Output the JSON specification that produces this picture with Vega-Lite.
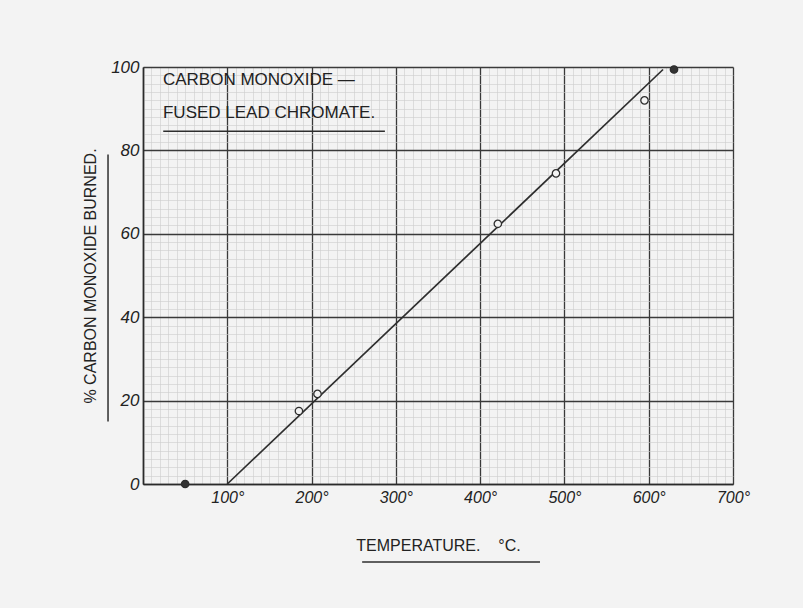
{
  "$schema": "https://vega.github.io/schema/vega-lite/v6.json",
  "autosize": {"type": "none"},
  "padding": {"left": 143, "top": 67, "right": 70, "bottom": 124},
  "width": 590,
  "height": 417,
  "background": "#f3f3f3",
  "config": {"view": {"stroke": null}},
  "datasets": {
    "points": [
      {"temp": 50, "pct": 0, "kind": "filled"},
      {"temp": 185, "pct": 17.5, "kind": "open"},
      {"temp": 207, "pct": 21.6, "kind": "open"},
      {"temp": 421, "pct": 62.4, "kind": "open"},
      {"temp": 490, "pct": 74.5, "kind": "open"},
      {"temp": 595, "pct": 92, "kind": "open"},
      {"temp": 630, "pct": 99.4, "kind": "filled"}
    ],
    "fit": [
      {"temp": 100, "pct": 0},
      {"temp": 617, "pct": 99.4}
    ],
    "underlines": [
      {"x1": 24, "x2": 287, "y1": 84.6, "y2": 84.6},
      {"x1": -41.5, "x2": -41.5, "y1": 15, "y2": 79},
      {"x1": 260, "x2": 471, "y1": -18.7, "y2": -18.7}
    ],
    "title": [
      {"tx": 23.7, "ty": 96.9, "label": "CARBON MONOXIDE —"},
      {"tx": 23.7, "ty": 89, "label": "FUSED LEAD CHROMATE."}
    ]
  },
  "layer": [
    {
      "data": {"name": "fit"},
      "mark": {"type": "line", "color": "#2e2e2e", "strokeWidth": 1.7},
      "encoding": {
        "x": {
          "field": "temp", "type": "quantitative",
          "scale": {"domain": [0, 700], "nice": false, "zero": true},
          "axis": {
            "values": [0,10,20,30,40,50,60,70,80,90,100,110,120,130,140,150,160,170,180,190,200,210,220,230,240,250,260,270,280,290,300,310,320,330,340,350,360,370,380,390,400,410,420,430,440,450,460,470,480,490,500,510,520,530,540,550,560,570,580,590,600,610,620,630,640,650,660,670,680,690,700],
            "tickCount": 1000,
            "labelExpr": "datum.value % 100 === 0 && datum.value > 0 ? datum.value + '°' : ''",
            "labelOverlap": false,
            "labelFlush": false,
            "grid": true,
            "gridColor": {"condition": {"test": "datum.value % 100 === 0", "value": "#3a3a3a"}, "value": "#cdcdcd"},
            "gridWidth": {"condition": {"test": "datum.value % 100 === 0", "value": 1.3}, "value": 0.6},
            "ticks": false,
            "domain": true,
            "domainColor": "#2a2a2a",
            "domainWidth": 1.6,
            "labelFont": "Liberation Sans",
            "labelFontStyle": "italic",
            "labelFontSize": 16,
            "labelColor": "#222222",
            "labelPadding": 5,
            "title": "TEMPERATURE.\u00a0\u00a0\u00a0\u00a0°C.",
            "titleFont": "Liberation Sans",
            "titleFontSize": 16,
            "titleFontWeight": "normal",
            "titleColor": "#222222",
            "titlePadding": 32
          }
        },
        "y": {
          "field": "pct", "type": "quantitative",
          "scale": {"domain": [0, 100], "nice": false},
          "axis": {
            "values": [0,2,4,6,8,10,12,14,16,18,20,22,24,26,28,30,32,34,36,38,40,42,44,46,48,50,52,54,56,58,60,62,64,66,68,70,72,74,76,78,80,82,84,86,88,90,92,94,96,98,100],
            "tickCount": 1000,
            "labelExpr": "datum.value % 20 === 0 ? datum.value + '' : ''",
            "labelOverlap": false,
            "labelFlush": false,
            "grid": true,
            "gridColor": {"condition": {"test": "datum.value % 20 === 0", "value": "#3a3a3a"}, "value": "#cdcdcd"},
            "gridWidth": {"condition": {"test": "datum.value % 20 === 0", "value": 1.3}, "value": 0.6},
            "ticks": false,
            "domain": true,
            "domainColor": "#2a2a2a",
            "domainWidth": 1.6,
            "labelFont": "Liberation Sans",
            "labelFontStyle": "italic",
            "labelFontSize": 17,
            "labelColor": "#222222",
            "labelPadding": 4,
            "title": "% CARBON MONOXIDE BURNED.",
            "titleFont": "Liberation Sans",
            "titleFontSize": 16,
            "titleFontWeight": "normal",
            "titleColor": "#222222",
            "titlePadding": 12
          }
        }
      }
    },
    {
      "data": {"name": "points"},
      "mark": {"type": "point", "shape": "circle", "size": 55, "strokeWidth": 1.3, "color": "#2e2e2e", "opacity": 1},
      "encoding": {
        "x": {"field": "temp", "type": "quantitative"},
        "y": {"field": "pct", "type": "quantitative"},
        "fill": {"field": "kind", "type": "nominal", "scale": {"domain": ["filled", "open"], "range": ["#333333", "#f3f3f3"]}, "legend": null},
        "fillOpacity": {"value": 1}
      }
    },
    {
      "data": {"name": "underlines"},
      "mark": {"type": "rule", "color": "#2e2e2e", "strokeWidth": 1.5},
      "encoding": {
        "x": {"field": "x1", "type": "quantitative"},
        "x2": {"field": "x2"},
        "y": {"field": "y1", "type": "quantitative"},
        "y2": {"field": "y2"}
      }
    },
    {
      "data": {"name": "title"},
      "mark": {"type": "text", "align": "left", "baseline": "middle", "font": "Liberation Sans", "fontSize": 17, "color": "#222222"},
      "encoding": {
        "x": {"field": "tx", "type": "quantitative"},
        "y": {"field": "ty", "type": "quantitative"},
        "text": {"field": "label"}
      }
    }
  ]
}
